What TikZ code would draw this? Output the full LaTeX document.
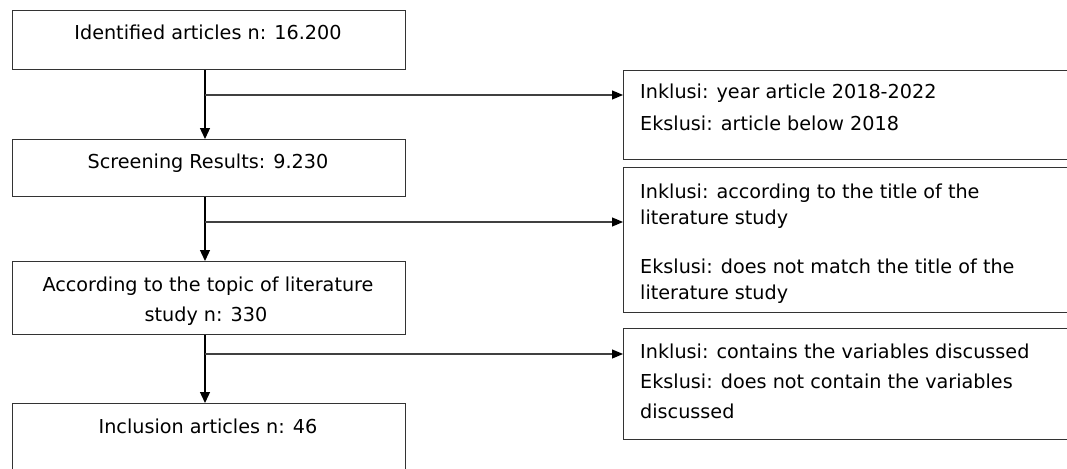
\documentclass[tikz,border=0pt]{standalone}
\usepackage{fontspec}
\setmainfont{DejaVu Sans}
\usetikzlibrary{arrows.meta}
\tikzset{
  box/.style={draw=black!80, line width=1.2pt, rectangle, inner sep=0pt, anchor=north west},
  txt/.style={inner sep=0pt, anchor=base, font=\fontsize{19.2}{22}\selectfont},
  rtxt/.style={inner sep=0pt, anchor=base west, font=\fontsize{19.2}{22}\selectfont},
  arr/.style={line width=1.3pt, black, -{Triangle[length=11pt,width=10pt]}},
  br/.style={line width=1.2pt, black!75, -{Triangle[length=11pt,width=9pt,fill=black,color=black]}}
}
\begin{document}
\begin{tikzpicture}[x=1pt,y=-1pt]
\useasboundingbox (0,0) rectangle (1067,468);
\clip (0,0) rectangle (1067,468);
% left boxes
\node[box, minimum width=393pt, minimum height=59pt] (b1) at (12,10) {};
\node[box, minimum width=393pt, minimum height=57pt] (b2) at (12,139) {};
\node[box, minimum width=393pt, minimum height=73pt] (b3) at (12,261) {};
\node[box, minimum width=393pt, minimum height=80pt] (b4) at (12,403) {};
% right boxes
\node[box, minimum width=460pt, minimum height=89pt] (r1) at (623,70) {};
\node[box, minimum width=460pt, minimum height=145pt] (r2) at (623,167) {};
\node[box, minimum width=460pt, minimum height=111pt] (r3) at (623,328) {};
% left texts
\node[txt] (t1) at (208,40) {Identified articles n: 16.200};
\node[txt] (t2) at (208,168) {Screening Results: 9.230};
\node[txt] (t3a) at (208,291) {According to the topic of literature};
\node[txt] (t3b) at (206,321) {study n: 330};
\node[txt] (t4) at (208,433) {Inclusion articles n: 46};
% right texts
\node[rtxt] (u1a) at (640,99) {Inklusi: year article 2018-2022};
\node[rtxt] (u1b) at (640,130) {Ekslusi: article below 2018};
\node[rtxt] (u2a) at (640,198) {Inklusi: according to the title of the};
\node[rtxt] (u2b) at (640,224) {literature study};
\node[rtxt] (u2c) at (640,273) {Ekslusi: does not match the title of the};
\begin{scope}
\clip (630,280) rectangle (1067,302);
\node[rtxt] (u2d) at (640,299) {literature study};
\end{scope}
\node[rtxt] (u3a) at (640,358) {Inklusi: contains the variables discussed};
\node[rtxt] (u3b) at (640,388) {Ekslusi: does not contain the variables};
\node[rtxt] (u3c) at (640,418) {discussed};
% connectors
\coordinate (s1) at (205,95);
\coordinate (s2) at (205,222);
\coordinate (s3) at (205,354);
\draw[arr] (s1 |- b1.south) -- (s1 |- b2.north);
\draw[arr] (s2 |- b2.south) -- (s2 |- b3.north);
\draw[arr] (s3 |- b3.south) -- (s3 |- b4.north);
\draw[br] (s1) -- (r1.west |- s1);
\draw[br] (s2) -- (r2.west |- s2);
\draw[br] (s3) -- (r3.west |- s3);
\end{tikzpicture}
\end{document}
